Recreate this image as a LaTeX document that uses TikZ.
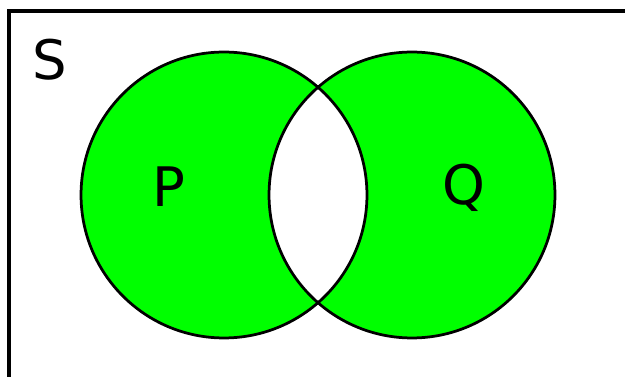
\documentclass[tikz,border=0pt]{standalone}
\usepackage{fontspec}
\setmainfont{DejaVu Sans}
\definecolor{venngreen}{HTML}{00FF00}

\begin{document}
\begin{tikzpicture}[
    x=0.02cm, y=-0.02cm,
    frame/.style={draw=black, line width=0.08cm},
    setline/.style={draw=black, line width=0.055cm},
    setfill/.style={fill=venngreen, even odd rule},
    setname/.style={anchor=base, inner sep=0pt, font=\fontsize{31}{31}\selectfont}
  ]
    % page 625 x 377 px, y runs downwards
    \useasboundingbox (0,0) rectangle (625,377);
    \clip (0,0) rectangle (625,377);

    % universe (right and bottom edges lie outside the picture)
    \draw[frame] (9,400) -- (9,11) -- (650,11);

    % P and Q, symmetric difference in green
    \fill[setfill] (224,195) circle (2.86cm) (412,195) circle (2.86cm);
    \draw[setline] (224,195) circle (2.86cm);
    \draw[setline] (412,195) circle (2.86cm);

    \node[setname] (univ) at (50,80)  {S};
    \node[setname] (setp) at (169,207) {P};
    \node[setname] (setq) at (464,205) {Q};
  \end{tikzpicture}
\end{document}
